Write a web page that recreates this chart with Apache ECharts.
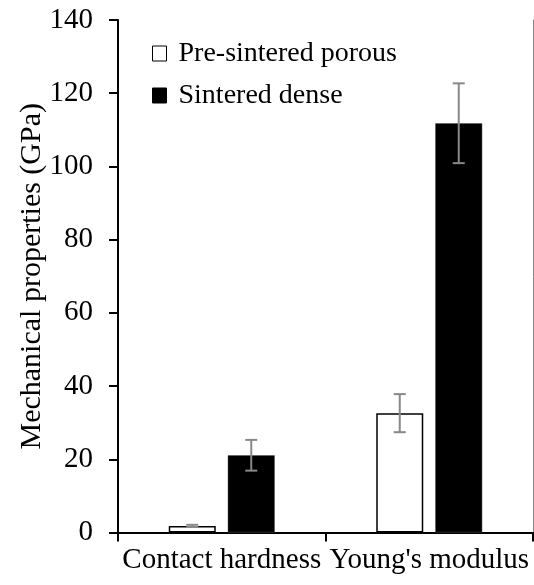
<!DOCTYPE html>
<html>
<head>
<meta charset="utf-8">
<script src="https://cdn.jsdelivr.net/npm/echarts@6/dist/echarts.min.js"></script>
<style>html,body{margin:0;padding:0;background:#fff}#c{width:534px;height:585px}</style>
</head>
<body>
<div id="c"></div>
<script>
var categories = ['Contact hardness', "Young's modulus"];
var seriesNames = ['Pre-sintered porous', 'Sintered dense'];
var porousValues = [1.8, 32.6];
var porousErrors = [0.3, 5.2];
var denseValues = [21.1, 111.8];
var denseErrors = [4.2, 10.9];
var yTicks = [0, 20, 40, 60, 80, 100, 120, 140];

var FONT = 'Liberation Serif';
var FS = 29;
var BAR_W = 47, GAP_PX = 12;
var chart = echarts.init(document.getElementById('c'), null, {renderer: 'canvas'});

function errSeries(name, vals, errs, side) {
  var data = vals.map(function (v, i) { return [i, v, errs[i]]; });
  return {
    type: 'custom', name: name + ' err', z: 10, silent: true,
    data: data,
    renderItem: function (params, api) {
      var i = api.value(0), v = api.value(1), e = api.value(2);
      var off = side * (BAR_W + GAP_PX) / 2;
      var top = api.coord([i, v + e]);
      var bot = api.coord([i, v - e]);
      var x = top[0] + off;
      var cap = 6;
      var st = {stroke: '#888', lineWidth: 2};
      return {type: 'group', children: [
        {type: 'line', shape: {x1: x, y1: top[1], x2: x, y2: bot[1]}, style: st},
        {type: 'line', shape: {x1: x - cap, y1: top[1], x2: x + cap, y2: top[1]}, style: st},
        {type: 'line', shape: {x1: x - cap, y1: bot[1], x2: x + cap, y2: bot[1]}, style: st}
      ]};
    }
  };
}

var option = {
  backgroundColor: '#fff',
  animation: false,
  textStyle: {fontFamily: FONT},
  grid: {left: 118, right: 1, top: 20, bottom: 52.5},
  legend: {
    orient: 'vertical', left: 147, top: 34, itemWidth: 14, itemHeight: 15, itemGap: 13,
    textStyle: {fontFamily: FONT, fontSize: 28, lineHeight: 29, color: '#000', padding: [0, 0, 0, 7]},
    data: [
      {name: seriesNames[0], icon: 'rect', itemStyle: {color: '#fff', borderColor: '#000', borderWidth: 1}},
      {name: seriesNames[1], icon: 'rect', itemStyle: {color: '#000', borderColor: '#000', borderWidth: 1}}
    ]
  },
  xAxis: [{
    type: 'category', data: categories, position: 'bottom',
    axisLine: {lineStyle: {color: '#000', width: 2}},
    axisTick: {show: true, length: 9, alignWithLabel: false, lineStyle: {color: '#000', width: 2}},
    axisLabel: {color: '#000', fontFamily: FONT, fontSize: FS, margin: 13, interval: 0}
  }, {
    type: 'category', data: categories, position: 'top',
    axisLine: {show: true, lineStyle: {color: '#000', width: 2}},
    axisTick: {show: false}, axisLabel: {show: false}
  }],
  yAxis: [{
    type: 'value', min: yTicks[0], max: yTicks[yTicks.length - 1], interval: 20,
    name: 'Mechanical properties (GPa)', nameLocation: 'middle', nameGap: 71, nameMoveOverlap: false,
    nameTextStyle: {color: '#000', fontFamily: FONT, fontSize: 30},
    axisLine: {show: true, lineStyle: {color: '#000', width: 2}},
    axisTick: {show: true, length: 9, lineStyle: {color: '#000', width: 2}},
    axisLabel: {color: '#000', fontFamily: FONT, fontSize: FS, margin: 25},
    splitLine: {show: false}
  }, {
    type: 'value', min: yTicks[0], max: yTicks[yTicks.length - 1], interval: 20, position: 'right',
    axisLine: {show: true, lineStyle: {color: '#888', width: 1}},
    axisTick: {show: false}, axisLabel: {show: false}, splitLine: {show: false}
  }],
  series: [
    {name: seriesNames[0], type: 'bar', data: porousValues, barWidth: BAR_W, barGap: (GAP_PX / BAR_W * 100) + '%',
     itemStyle: {color: '#fff', borderColor: '#000', borderWidth: 1.5}},
    {name: seriesNames[1], type: 'bar', data: denseValues, barWidth: BAR_W,
     itemStyle: {color: '#000', borderColor: '#555', borderWidth: 0.5}},
    errSeries(seriesNames[0], porousValues, porousErrors, -1),
    errSeries(seriesNames[1], denseValues, denseErrors, 1)
  ]
};
chart.setOption(option);
</script>
</body>
</html>
